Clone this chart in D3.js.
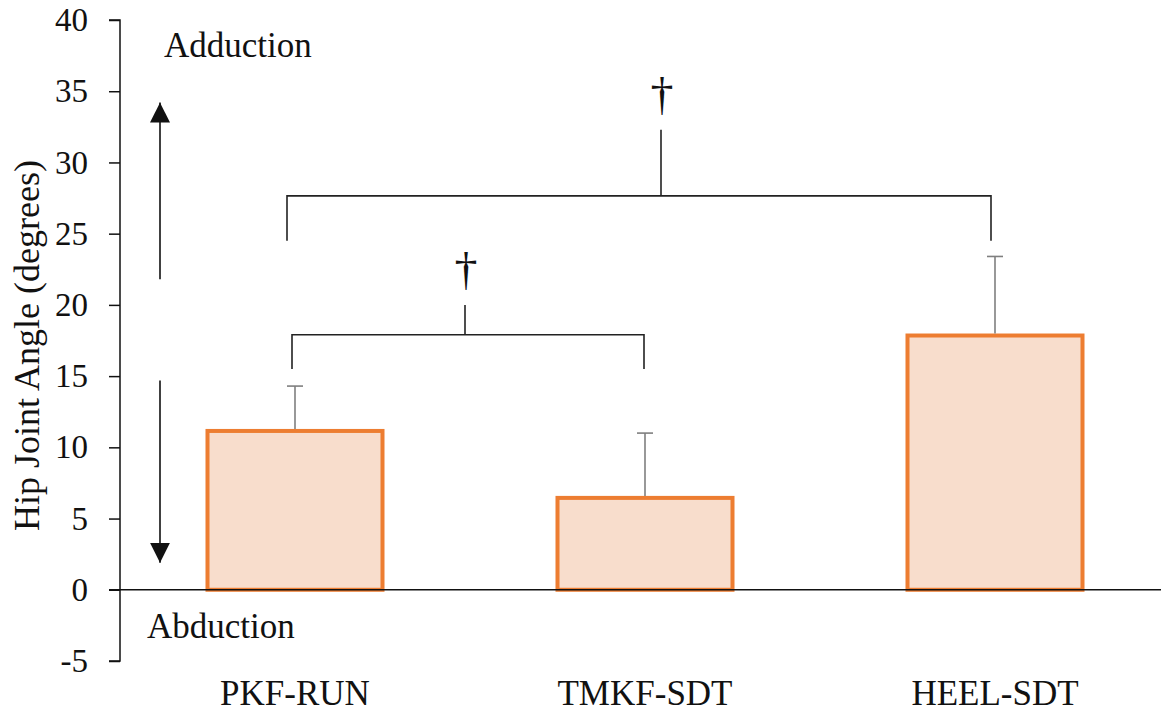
<!DOCTYPE html>
<html>
<head>
<meta charset="utf-8">
<script src="https://cdn.jsdelivr.net/npm/d3@7"></script>
<style>
  html, body { margin: 0; padding: 0; background: #fff; }
  svg { display: block; }
  text { font-family: "Liberation Serif", "Times New Roman", serif; fill: #111; }
</style>
</head>
<body>
<svg id="chart" width="1161" height="714"></svg>
<script>
// Hip joint angle by task: mean and standard deviation (degrees)
const categories = ["PKF-RUN", "TMKF-SDT", "HEEL-SDT"];
const means = [11.15, 6.45, 17.85];
const sds = [3.15, 4.55, 5.55];
const yTicks = [-5, 0, 5, 10, 15, 20, 25, 30, 35, 40];

// Significance brackets (value units on the y scale)
const bracketPairs = [[0, 1], [0, 2]];
const bracketLevels = [17.9, 27.65];
const bracketLegEnds = [15.5, 24.5];
const bracketStubTops = [20.0, 32.3];
const bracketMarks = ["\u2020", "\u2020"];

const svg = d3.select("#chart");
const W = 1161, H = 714;
const plotLeft = 120, plotTop = 20, plotBottom = 661;

const x = d3.scaleBand().domain(categories).range([plotLeft, plotLeft + 1050]).paddingInner(0.5).paddingOuter(0.25);
const y = d3.scaleLinear().domain([-5, 40]).range([plotBottom, plotTop]);
const cx = c => x(c) + x.bandwidth() / 2;

// Bars
svg.append("g").selectAll("rect").data(categories).join("rect")
  .attr("x", d => x(d))
  .attr("y", (d, i) => y(means[i]))
  .attr("width", x.bandwidth())
  .attr("height", (d, i) => y(0) - y(means[i]))
  .attr("fill", "#F8DDCC")
  .attr("stroke", "#ED7D31")
  .attr("stroke-width", 4);

// Error bars (upper only)
const eb = svg.append("g").attr("stroke", "#7F7F7F").attr("stroke-width", 1.6);
categories.forEach((c, i) => {
  eb.append("line").attr("x1", cx(c)).attr("x2", cx(c))
    .attr("y1", y(means[i]) - 2).attr("y2", y(means[i] + sds[i]));
  eb.append("line").attr("x1", cx(c) - 8).attr("x2", cx(c) + 8)
    .attr("y1", y(means[i] + sds[i])).attr("y2", y(means[i] + sds[i]));
});

// Y axis
const yAxis = d3.axisLeft(y).tickValues(yTicks).tickSize(11).tickPadding(21).tickFormat(d => String(d));
const ga = svg.append("g").attr("transform", `translate(${plotLeft},0)`).call(yAxis);
ga.select(".domain").attr("stroke", "#111").attr("stroke-width", 1.5).attr("d", `M-11,${plotTop}H0V${plotBottom}H-11`);
ga.selectAll(".tick line").attr("stroke", "#111").attr("stroke-width", 1.5);
ga.selectAll(".tick text").attr("font-size", 33).attr("fill", "#111")
  .style("font-family", '"Liberation Serif", "Times New Roman", serif');

// Zero line
svg.append("line").attr("x1", plotLeft - 11).attr("x2", W).attr("y1", y(0)).attr("y2", y(0))
  .attr("stroke", "#111").attr("stroke-width", 1.5);

// Category labels
svg.append("g").selectAll("text").data(categories).join("text")
  .attr("x", d => cx(d)).attr("y", 705)
  .attr("text-anchor", "middle").attr("font-size", 35).text(d => d);

// Y axis title
svg.append("text")
  .attr("transform", `translate(39,${(163 + 528) / 2}) rotate(-90)`)
  .attr("text-anchor", "middle").attr("font-size", 36)
  .text("Hip Joint Angle (degrees)");

// Direction annotations
svg.append("text").attr("x", 164).attr("y", 57).attr("font-size", 35).text("Adduction");
svg.append("text").attr("x", 147).attr("y", 638).attr("font-size", 35).text("Abduction");

const defs = svg.append("defs");
defs.append("marker").attr("id", "head").attr("viewBox", "0 0 10 10")
  .attr("refX", 10).attr("refY", 5).attr("markerWidth", 20).attr("markerHeight", 20)
  .attr("markerUnits", "userSpaceOnUse").attr("orient", "auto")
  .append("path").attr("d", "M0,0L10,5L0,10Z").attr("fill", "#111");

const arrowX = 160;
svg.append("line").attr("x1", arrowX).attr("x2", arrowX).attr("y1", y(21.8)).attr("y2", y(34.2))
  .attr("stroke", "#111").attr("stroke-width", 1.6).attr("marker-end", "url(#head)");
svg.append("line").attr("x1", arrowX).attr("x2", arrowX).attr("y1", y(14.7)).attr("y2", y(1.9))
  .attr("stroke", "#111").attr("stroke-width", 1.6).attr("marker-end", "url(#head)");

// Significance brackets
const bx = [[cx(categories[0]) - 3, cx(categories[1]) - 1], [cx(categories[0]) - 8, cx(categories[2]) - 4]];
const stubX = [(bx[0][0] + bx[0][1]) / 2 - 3, cx(categories[1]) + 16];
const br = svg.append("g").attr("stroke", "#222").attr("stroke-width", 1.6).attr("fill", "none");
bracketPairs.forEach((p, i) => {
  const [x1, x2] = bx[i];
  br.append("path").attr("d",
    `M${x1},${y(bracketLegEnds[i])}V${y(bracketLevels[i])}H${x2}V${y(bracketLegEnds[i])}`);
  br.append("line").attr("x1", stubX[i]).attr("x2", stubX[i])
    .attr("y1", y(bracketLevels[i])).attr("y2", y(bracketStubTops[i]));
  svg.append("text").attr("x", stubX[i] + 1).attr("y", y(bracketStubTops[i]) - 20)
    .attr("text-anchor", "middle").attr("font-size", 46).text(bracketMarks[i]);
});
</script>
</body>
</html>
